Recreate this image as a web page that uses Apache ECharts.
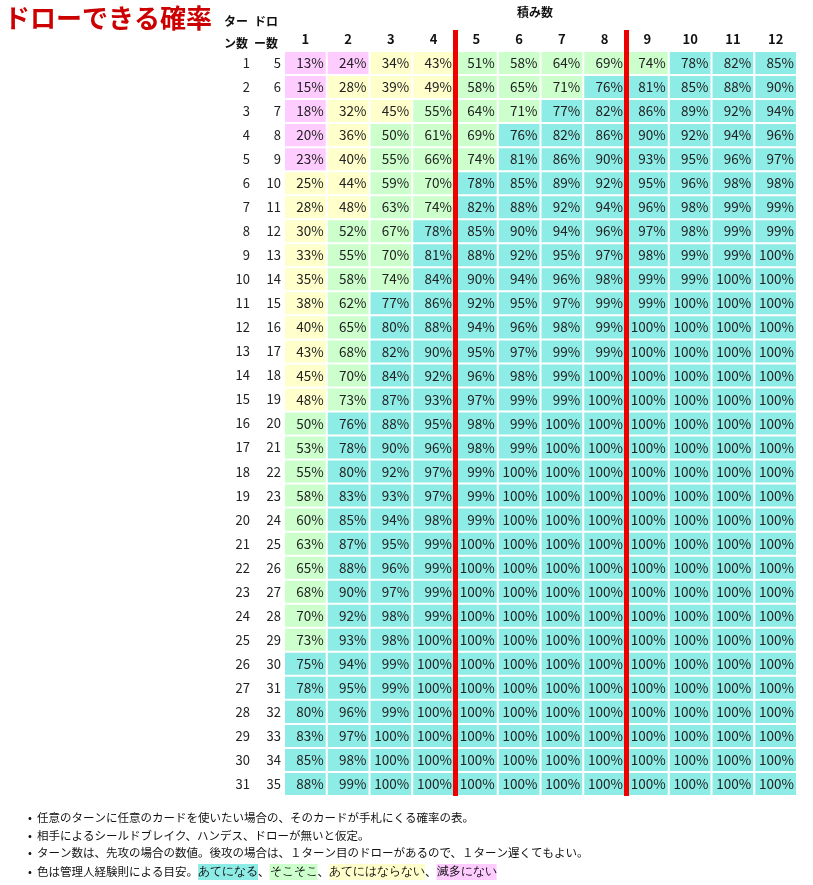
<!DOCTYPE html>
<html><head><meta charset="utf-8">
<script src="https://cdn.jsdelivr.net/npm/echarts@6/dist/echarts.min.js"></script>
<style>html,body{margin:0;padding:0;background:#fff}#c{width:813px;height:885px}</style>
</head><body><div id="c"></div>
<script>
const stackCounts = ['1','2','3','4','5','6','7','8','9','10','11','12'];
const turns = Array.from({length:31},(_, i)=>i+1);
const draws = turns.map(t=>t+4);
const probs = [
[13,24,34,43,51,58,64,69,74,78,82,85],
[15,28,39,49,58,65,71,76,81,85,88,90],
[18,32,45,55,64,71,77,82,86,89,92,94],
[20,36,50,61,69,76,82,86,90,92,94,96],
[23,40,55,66,74,81,86,90,93,95,96,97],
[25,44,59,70,78,85,89,92,95,96,98,98],
[28,48,63,74,82,88,92,94,96,98,99,99],
[30,52,67,78,85,90,94,96,97,98,99,99],
[33,55,70,81,88,92,95,97,98,99,99,100],
[35,58,74,84,90,94,96,98,99,99,100,100],
[38,62,77,86,92,95,97,99,99,100,100,100],
[40,65,80,88,94,96,98,99,100,100,100,100],
[43,68,82,90,95,97,99,99,100,100,100,100],
[45,70,84,92,96,98,99,100,100,100,100,100],
[48,73,87,93,97,99,99,100,100,100,100,100],
[50,76,88,95,98,99,100,100,100,100,100,100],
[53,78,90,96,98,99,100,100,100,100,100,100],
[55,80,92,97,99,100,100,100,100,100,100,100],
[58,83,93,97,99,100,100,100,100,100,100,100],
[60,85,94,98,99,100,100,100,100,100,100,100],
[63,87,95,99,100,100,100,100,100,100,100,100],
[65,88,96,99,100,100,100,100,100,100,100,100],
[68,90,97,99,100,100,100,100,100,100,100,100],
[70,92,98,99,100,100,100,100,100,100,100,100],
[73,93,98,100,100,100,100,100,100,100,100,100],
[75,94,99,100,100,100,100,100,100,100,100,100],
[78,95,99,100,100,100,100,100,100,100,100,100],
[80,96,99,100,100,100,100,100,100,100,100,100],
[83,97,100,100,100,100,100,100,100,100,100,100],
[85,98,100,100,100,100,100,100,100,100,100,100],
[88,99,100,100,100,100,100,100,100,100,100,100]
];
const separators = [4, 8];
const notes = [
 '任意のターンに任意のカードを使いたい場合の、そのカードが手札にくる確率の表。',
 '相手によるシールドブレイク、ハンデス、ドローが無いと仮定。',
 'ターン数は、先攻の場合の数値。後攻の場合は、１ターン目のドローがあるので、１ターン遅くてもよい。'
];

const C_CYAN='#8eece6', C_GREEN='#ccffcc', C_YELLOW='#ffffcc', C_PINK='#ffccff';
const FONT='"Noto Sans CJK JP", sans-serif';
const cells=[];
probs.forEach((r,i)=>r.forEach((v,j)=>cells.push([j,i,v])));

const chart = echarts.init(document.getElementById('c'));
chart.setOption({
  animation:false,
  textStyle:{fontFamily:FONT},
  grid:{left:284,right:16,top:51,bottom:89},
  xAxis:[
    {type:'value',min:0,max:12,show:false},
    {type:'category',data:stackCounts,position:'top',axisLine:{show:false},axisTick:{show:false},
     axisLabel:{fontWeight:'bold',fontSize:13,color:'#111',margin:5,fontFamily:FONT}}
  ],
  yAxis:{type:'value',min:0,max:31,inverse:true,show:false},
  visualMap:{show:false,type:'piecewise',seriesIndex:0,dimension:2,
    pieces:[{lt:25,color:C_PINK},{gte:25,lt:50,color:C_YELLOW},{gte:50,lt:75,color:C_GREEN},{gte:75,color:C_CYAN}]},
  graphic:[
    {type:'text',left:4,top:5,style:{text:'ドローできる確率',fill:'#cc0000',font:'bold 26px '+FONT}},
    {type:'text',left:224,top:10,style:{text:'ター\nン数',fill:'#111',font:'bold 12px '+FONT,lineHeight:22}},
    {type:'text',left:254,top:10,style:{text:'ドロ\nー数',fill:'#111',font:'bold 12px '+FONT,lineHeight:22}},
    {type:'text',left:517,top:6,style:{text:'積み数',fill:'#111',font:'bold 12px '+FONT}},
    ...notes.map((t,i)=>({type:'text',left:28,top:812+i*17.5,style:{text:'•  '+t,fill:'#111',font:'11.5px '+FONT}})),
    {type:'text',left:28,top:864,style:{
      text:'•  色は管理人経験則による目安。{a|あてになる}、{b|そこそこ}、{c|あてにはならない}、{d|滅多にない}',
      fill:'#111',font:'11.5px '+FONT,
      rich:{a:{backgroundColor:C_CYAN,fontSize:11.5,padding:[2,0]},b:{backgroundColor:C_GREEN,fontSize:11.5,padding:[2,0]},
            c:{backgroundColor:C_YELLOW,fontSize:11.5,padding:[2,0]},d:{backgroundColor:C_PINK,fontSize:11.5,padding:[2,0]}}}}
  ],
  series:[
    {type:'custom',data:cells,encode:{x:0,y:1},
     renderItem(params,api){
       const c=api.value(0),r=api.value(1),v=api.value(2);
       const p0=api.coord([c,r]),p1=api.coord([c+1,r+1]);
       return {type:'group',children:[
         {type:'rect',shape:{x:p0[0]+1,y:p0[1]+1,width:p1[0]-p0[0]-2,height:p1[1]-p0[1]-2},style:{fill:api.visual('color')}},
         {type:'text',style:{text:v+'%',x:p1[0]-3,y:(p0[1]+p1[1])/2,align:'right',verticalAlign:'middle',fill:'#222',font:'13.5px '+FONT}}
       ]};
     }},
    {type:'custom',data:turns.map((t,i)=>[i,t,draws[i]]),
     renderItem(params,api){
       const i=api.value(0);
       const p=api.coord([0,i+0.5]);
       return {type:'group',children:[
         {type:'text',style:{text:String(api.value(1)),x:p[0]-34,y:p[1],align:'right',verticalAlign:'middle',fill:'#222',font:'13px '+FONT}},
         {type:'text',style:{text:String(api.value(2)),x:p[0]-3,y:p[1],align:'right',verticalAlign:'middle',fill:'#222',font:'13px '+FONT}}
       ]};
     }},
    {type:'custom',data:separators.map(s=>[s]),
     renderItem(params,api){
       const s=api.value(0);
       const a=api.coord([s,0]),b=api.coord([s,31]);
       return {type:'rect',shape:{x:a[0]-2,y:a[1]-21,width:5,height:b[1]-a[1]+21},style:{fill:'#ee0000'}};
     }}
  ]
});
</script></body></html>
